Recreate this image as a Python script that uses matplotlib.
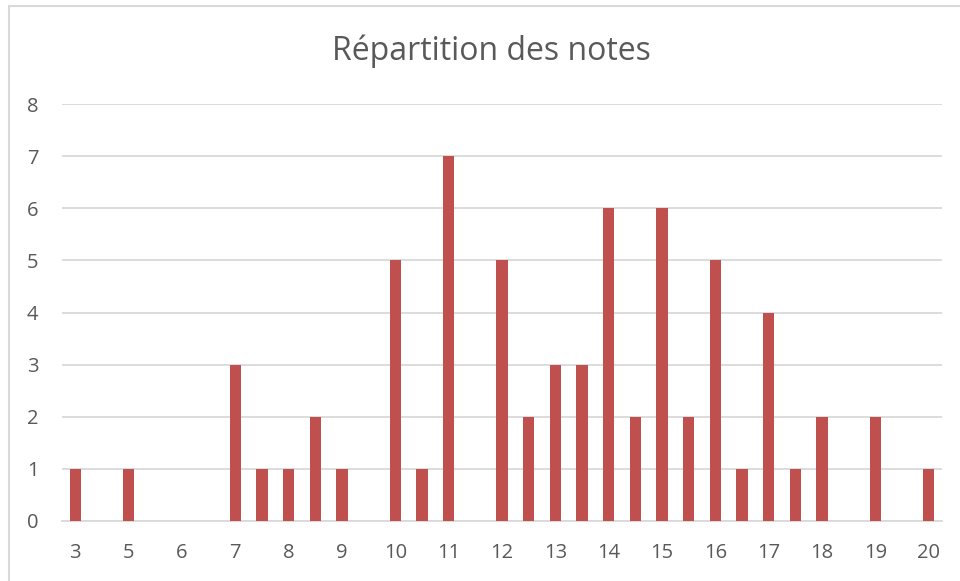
import matplotlib.pyplot as plt
from matplotlib.patches import Rectangle

plt.rcParams['font.family'] = ['Open Sans', 'DejaVu Sans']

# categories (notes), only every other label is shown on the axis
notes = ['3', '4', '5', '5.5', '6', '6.5', '7', '7.5', '8', '8.5', '9', '9.5',
         '10', '10.5', '11', '11.5', '12', '12.5', '13', '13.5', '14', '14.5',
         '15', '15.5', '16', '16.5', '17', '17.5', '18', '18.5', '19', '19.5', '20']
counts = [1, 0, 1, 0, 0, 0, 3, 1, 1, 2, 1, 0, 5, 1, 7, 0, 5, 2, 3, 3, 6, 2,
          6, 2, 5, 1, 4, 1, 2, 0, 2, 0, 1]
shown_labels = ['3', '5', '6', '7', '8', '9', '10', '11', '12', '13', '14',
                '15', '16', '17', '18', '19', '20']

txt = '#595959'
fig = plt.figure(figsize=(9.6, 5.81), dpi=100)
ax = fig.add_axes([62 / 960, 1 - 521 / 581, 880 / 960, (521 - 104) / 581])

x = list(range(len(notes)))
ax.bar(x, counts, width=0.42, color='#C0504D', zorder=3)

ax.set_xlim(-0.5, len(notes) - 0.5)
ax.set_ylim(0, 8)
ax.set_yticks(range(0, 9))
ax.set_xticks(x[::2])
ax.set_xticklabels(shown_labels)
ax.tick_params(axis='both', length=0, labelsize=14.5, colors=txt)
ax.tick_params(axis='x', pad=16)
ax.tick_params(axis='y', pad=17)
ax.grid(axis='y', color='#D9D9D9', linewidth=1.3, zorder=0)
for s in ['top', 'right', 'left']:
    ax.spines[s].set_visible(False)
ax.spines['bottom'].set_color('#D9D9D9')
ax.spines['bottom'].set_linewidth(1.3)

fig.text(491 / 960, 1 - 51 / 581, 'Répartition des notes', ha='center',
         va='center', fontsize=23, color=txt)

# chart border
fig.patches.append(Rectangle((9 / 960, -0.1), 1.2, 1.1 - 6 / 581,
                             transform=fig.transFigure, fill=False,
                             edgecolor='#D9D9D9', linewidth=1.5))

fig.savefig('out.png', dpi=100)
